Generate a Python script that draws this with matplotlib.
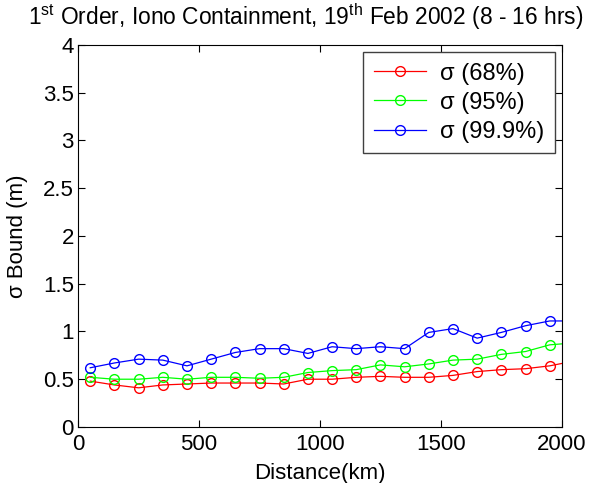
import matplotlib
matplotlib.use('Agg')
from matplotlib import pyplot as plt

plt.rcParams['font.family'] = 'Liberation Sans'
plt.rcParams['mathtext.fontset'] = 'custom'
plt.rcParams['mathtext.rm'] = 'Liberation Sans'

# distance (km) - last point lies beyond the axis limit and gets clipped
distance = [50, 150, 250, 350, 450, 550, 650, 750, 850, 950,
            1050, 1150, 1250, 1350, 1450, 1550, 1650, 1750, 1850, 1950, 2050]

sigma_68 = [0.48, 0.44, 0.41, 0.44, 0.45, 0.46, 0.46, 0.46, 0.45, 0.50,
            0.50, 0.52, 0.53, 0.52, 0.52, 0.54, 0.58, 0.60, 0.61, 0.64, 0.69]
sigma_95 = [0.52, 0.50, 0.50, 0.52, 0.50, 0.52, 0.52, 0.51, 0.52, 0.57,
            0.59, 0.60, 0.65, 0.63, 0.66, 0.70, 0.71, 0.76, 0.79, 0.86, 0.88]
sigma_999 = [0.62, 0.67, 0.71, 0.70, 0.64, 0.71, 0.78, 0.82, 0.82, 0.77,
             0.84, 0.82, 0.84, 0.82, 0.99, 1.03, 0.93, 0.99, 1.06, 1.11, 1.11]

labels = ['σ (68%)', 'σ (95%)', 'σ (99.9%)']
colors = ['#ff0000', '#00ff00', '#0000ff']

fig = plt.figure(figsize=(5.92, 4.83), dpi=100)
ax = fig.add_axes([0.132, 0.116, 0.817, 0.791])

for vals, lab, c in zip([sigma_68, sigma_95, sigma_999], labels, colors):
    ax.plot(distance, vals, '-o', color=c, mfc='none', mec=c, ms=7, lw=0.9, label=lab)

ax.set_xlim(0, 2000)
ax.set_ylim(0, 4)
ax.set_xticks([0, 500, 1000, 1500, 2000])
ax.set_yticks([0, 0.5, 1, 1.5, 2, 2.5, 3, 3.5, 4])
ax.set_yticklabels(['0', '0.5', '1', '1.5', '2', '2.5', '3', '3.5', '4'])
ax.tick_params(direction='in', top=True, right=True, labelsize=16, length=5)
ax.tick_params(axis='y', pad=3)
ax.tick_params(axis='x', pad=5)
ax.set_xlabel('Distance(km)', fontsize=16, labelpad=6)
ax.set_ylabel('σ Bound (m)', fontsize=16, labelpad=11)
fig.text(0.517, 0.965,
         r'1$^{\mathrm{st}}$ Order, Iono Containment, 19$^{\mathrm{th}}$ Feb 2002 (8 - 16 hrs)',
         fontsize=16.4, ha='center', va='center')

leg = ax.legend(loc='upper right', fontsize=17, fancybox=False, edgecolor='#404040',
                framealpha=1, numpoints=1, handlelength=2.2, handletextpad=0.6,
                borderaxespad=0.3, labelspacing=0.3, borderpad=0.45)
leg.get_frame().set_linewidth(1.0)

fig.savefig('out.png', dpi=100)
